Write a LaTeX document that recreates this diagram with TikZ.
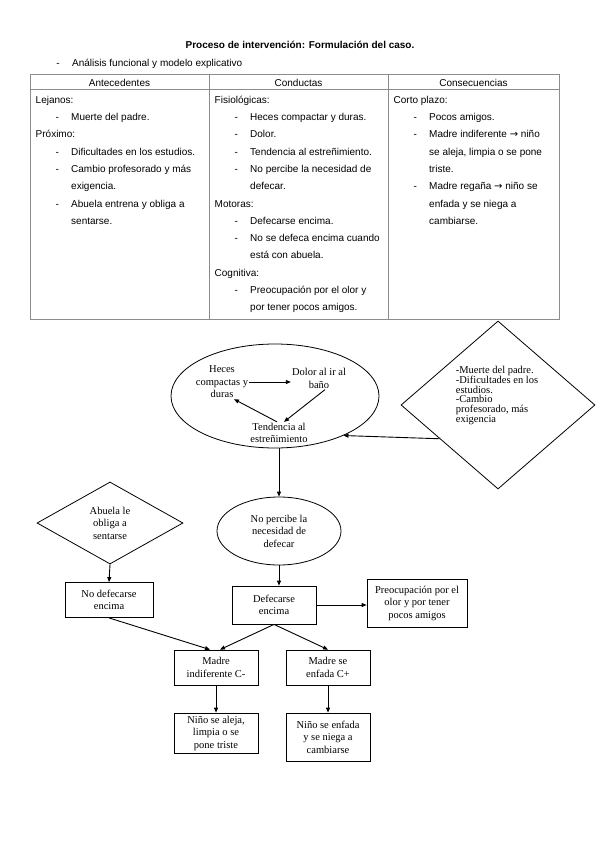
\documentclass[tikz,border=0pt]{standalone}
\usepackage{fontspec}
\setmainfont{Liberation Serif}
\newfontfamily\arialfont{Liberation Sans}
\newfontfamily\symfont{DejaVu Sans}
\usetikzlibrary{arrows.meta,shapes.geometric}
\newcommand{\dashitem}{\hspace*{20pt}\makebox[15.5pt][l]{-}}
\newcommand{\contline}{\hspace*{35.5pt}}
\newcommand{\rarr}{{\symfont\char"2192}}
\newcommand{\flowfont}{\fontsize{10.5}{12.5}\selectfont}
\tikzset{
  tabline/.style={draw=black!45, line width=1pt},
  cell/.style={anchor=north west, inner sep=0pt, align=left, font=\arialfont\fontsize{10}{17.3}\selectfont},
  thead/.style={inner sep=0pt, font=\arialfont\fontsize{10}{12}\selectfont},
  fbox/.style={draw, line width=0.8pt, minimum width=84pt, align=center, inner sep=2pt, font=\flowfont},
  fellip/.style={draw, ellipse, line width=0.8pt, align=center, inner sep=0pt, font=\flowfont},
  fdiam/.style={draw, diamond, line width=0.8pt, align=center, inner sep=0pt, font=\flowfont},
  ftext/.style={align=center, inner sep=1pt, font=\flowfont},
  flow/.style={-{Triangle[length=5pt,width=4pt]}, line width=0.9pt},
}

\begin{document}
\begin{tikzpicture}[x=1pt, y=-1pt]
  \useasboundingbox (0,0) rectangle (599,848);
  % heading
  \node[font=\arialfont\bfseries\fontsize{10}{12}\selectfont] (title) at (300,45) {Proceso de intervención: Formulación del caso.};
  \node[thead, anchor=base] (subdash) at (58,66.5) {-};
  \node[thead, anchor=base west] (subtitle) at (72,66.5) {Análisis funcional y modelo explicativo};

  % table
  \draw[tabline] (30,75) rectangle (559,319);
  \draw[tabline] (30,90) -- (559,90);
  \draw[tabline] (209,75) -- (209,319);
  \draw[tabline] (388,75) -- (388,319);
  \node[thead] (hant) at (119.5,82.5) {Antecedentes};
  \node[thead] (hcon) at (298.5,82.5) {Conductas};
  \node[thead] (hcons) at (473.5,82.5) {Consecuencias};

  \node[cell] (cant) at (35.5,93) {\rule{0pt}{10pt}Lejanos:\\
    \dashitem Muerte del padre.\\
    Próximo:\\
    \dashitem Dificultades en los estudios.\\
    \dashitem Cambio profesorado y más\\
    \contline exigencia.\\
    \dashitem Abuela entrena y obliga a\\
    \contline sentarse.};
  \node[cell] (ccon) at (214.5,93) {\rule{0pt}{10pt}Fisiológicas:\\
    \dashitem Heces compactar y duras.\\
    \dashitem Dolor.\\
    \dashitem Tendencia al estreñimiento.\\
    \dashitem No percibe la necesidad de\\
    \contline defecar.\\
    Motoras:\\
    \dashitem Defecarse encima.\\
    \dashitem No se defeca encima cuando\\
    \contline está con abuela.\\
    Cognitiva:\\
    \dashitem Preocupación por el olor y\\
    \contline por tener pocos amigos.};
  \node[cell] (ccons) at (393.5,93) {\rule{0pt}{10pt}Corto plazo:\\
    \dashitem Pocos amigos.\\
    \dashitem Madre indiferente \rarr{} niño\\
    \contline se aleja, limpia o se pone\\
    \contline triste.\\
    \dashitem Madre regaña \rarr{} niño se\\
    \contline enfada y se niega a\\
    \contline cambiarse.};

  % explicative model
  \node[fellip, minimum width=208pt, minimum height=104pt] (loop) at (275,396) {};
  \node[ftext] (heces) at (222,382) {Heces\\compactas y\\duras};
  \node[ftext] (dolor) at (319,378.5) {Dolor al ir al\\baño};
  \node[ftext] (tend) at (279,433) {Tendencia al\\estreñimiento};
  \draw[flow] (heces.east) -- (heces.east -| dolor.west);
  \draw[flow] ([xshift=6pt]dolor.south) -- ([xshift=5pt]tend.north);
  \draw[flow] ([xshift=-2pt]tend.north) -- ([xshift=12pt]heces.south);

  \node[fdiam, minimum width=194pt, minimum height=168pt] (cause) at (498,405) {};
  \node[ftext, align=left, font=\fontsize{10.5}{9.6}\selectfont] (causetxt) at (497,395) {-Muerte del padre.\\-Dificultades en los\\estudios.\\-Cambio\\profesorado, más\\exigencia};
  \draw[flow] (cause.210) -- (loop.-30);

  \node[fellip, minimum width=124pt, minimum height=68pt] (need) at (279,531) {No percibe la\\necesidad de\\defecar};
  \draw[flow] (loop.south -| need.north) -- (need.north);

  \node[fdiam, minimum width=146pt, minimum height=82pt] (granny) at (110,523) {Abuela le\\obliga a\\sentarse};
  \node[fbox, minimum width=88pt, minimum height=35pt] (nodef) at (109,600) {No defecarse\\encima};
  \node[fbox, minimum height=38pt] (act) at (274,605) {Defecarse\\encima};
  \node[fbox, minimum width=100pt, minimum height=48pt] (worry) at (417,603) {Preocupación por el\\olor y por tener\\pocos amigos};
  \draw[flow] (granny.south) -- (nodef.north);
  \draw[flow] (need.south) -- (need.south |- act.north);
  \draw[flow] (act.east) -- (act.east -| worry.west);

  \node[fbox, minimum height=35pt] (mindif) at (216,667.5) {Madre\\indiferente C-};
  \node[fbox, minimum height=35pt] (mangry) at (328,667.5) {Madre se\\enfada C+};
  \draw[flow] (nodef.south) -- ([xshift=-6pt]mindif.north);
  \draw[flow] (act.south) -- ([xshift=4pt]mindif.north);
  \draw[flow] (act.south) -- (mangry.north);

  \node[fbox, minimum height=40pt] (childsad) at (216,733) {Niño se aleja,\\limpia o se\\pone triste};
  \node[fbox, minimum height=48pt] (childmad) at (328,737) {Niño se enfada\\y se niega a\\cambiarse};
  \draw[flow] (mindif.south) -- (childsad.north);
  \draw[flow] (mangry.south) -- (childmad.north);
\end{tikzpicture}
\end{document}
